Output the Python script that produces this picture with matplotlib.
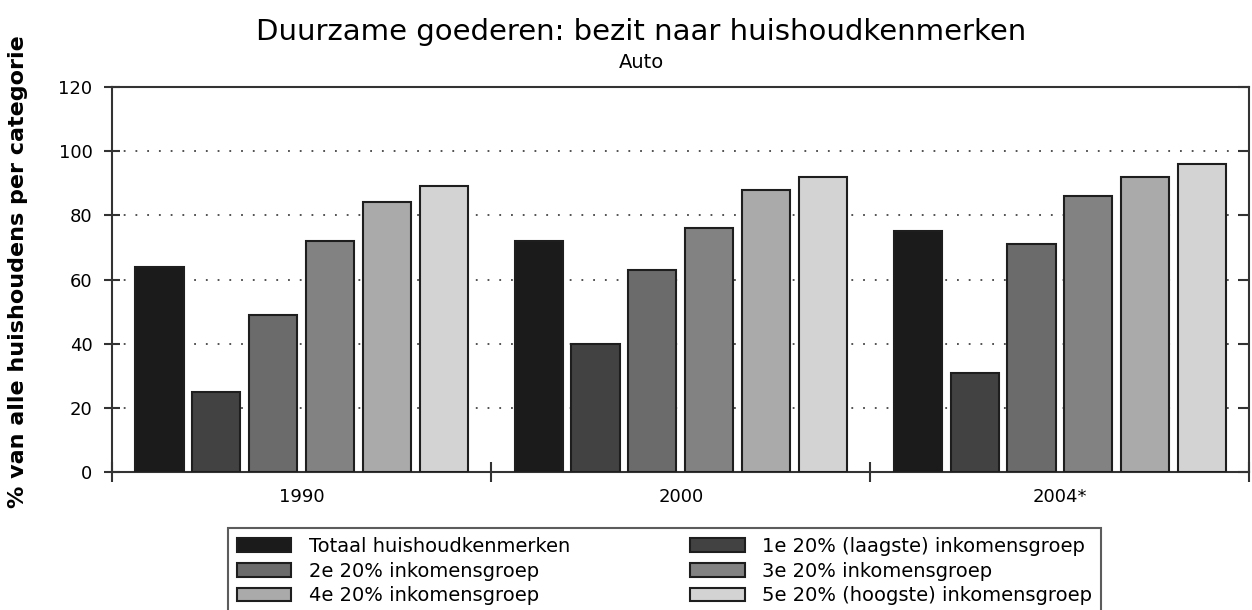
import numpy as np
import matplotlib.pyplot as plt
from matplotlib.ticker import FixedLocator, NullFormatter

plt.rcParams['font.family'] = ['DejaVu Sans']

years = ['1990', '2000', '2004*']
series = ['Totaal huishoudkenmerken', '1e 20% (laagste) inkomensgroep',
          '2e 20% inkomensgroep', '3e 20% inkomensgroep',
          '4e 20% inkomensgroep', '5e 20% (hoogste) inkomensgroep']
totaal = [64, 72, 75]
eerste = [25, 40, 31]
tweede = [49, 63, 71]
derde = [72, 76, 86]
vierde = [84, 88, 92]
vijfde = [89, 92, 96]
values = [totaal, eerste, tweede, derde, vierde, vijfde]
colors = ['#1b1b1b', '#424242', '#6b6b6b', '#828282', '#aaaaaa', '#d3d3d3']

fig = plt.figure(figsize=(12.52, 6.1), dpi=100)
ax = fig.add_axes([0.0895, 0.2262, 0.9085, 0.6312])

x = np.arange(len(years))
slot = 0.15
width = 0.127
handles = []
for i, (name, vals) in enumerate(zip(series, values)):
    pos = x + (i - 2.5) * slot
    b = ax.bar(pos, vals, width, color=colors[i], edgecolor='#1e1e1e',
               linewidth=1.5, label=name, zorder=3)
    handles.append(b)

ax.set_xlim(-0.5, len(years) - 0.5)
ax.set_ylim(0, 120)
ax.set_yticks(range(0, 121, 20))
ax.tick_params(axis='y', direction='inout', length=12, width=1.5,
               labelsize=13, pad=8, color='#333333')
ax.xaxis.set_major_locator(FixedLocator(x))
ax.xaxis.set_major_formatter(NullFormatter())
ax.xaxis.set_minor_locator(FixedLocator(np.arange(-0.5, len(years), 1.0)))
ax.tick_params(axis='x', which='major', length=0)
ax.tick_params(axis='x', which='minor', direction='inout', length=14, width=1.5,
               color='#333333')
for xi, lab in zip(x, years):
    ax.text(xi, -5, lab, ha='center', va='top', fontsize=13)
ax.yaxis.grid(True, linestyle=(0, (1, 5.5)), color='#444444', linewidth=1.3, zorder=1)
for s in ax.spines.values():
    s.set_linewidth(1.5)
    s.set_color('#333333')

# right axis: inward ticks only
ax2 = ax.twinx()
ax2.set_ylim(0, 120)
ax2.set_yticks(range(0, 121, 20))
ax2.tick_params(axis='y', direction='in', length=8, width=1.5,
                labelright=False, color='#333333')
for s in ax2.spines.values():
    s.set_visible(False)

ax.set_ylabel('% van alle huishoudens per categorie', fontsize=16,
              fontweight='bold')
ax.yaxis.set_label_coords(-0.074, 0.52)
fig.text(0.512, 0.948, 'Duurzame goederen: bezit naar huishoudkenmerken',
         ha='center', va='center', fontsize=21)
fig.text(0.512, 0.898, 'Auto', ha='center', va='center', fontsize=14)

# legend filled row by row: reorder for column-major layout
order = [0, 2, 4, 1, 3, 5]
leg = fig.legend([handles[k] for k in order], [series[k] for k in order],
                 loc='upper left', bbox_to_anchor=(0.182, 0.1344), ncol=2,
                 frameon=True, fancybox=False, edgecolor='#333333',
                 fontsize=14, handlelength=2.8, handleheight=0.7,
                 handletextpad=0.9, columnspacing=6.2, labelspacing=0.3,
                 borderpad=0.45, borderaxespad=0)
leg.get_frame().set_linewidth(1.5)

fig.savefig('out.png', dpi=100)
